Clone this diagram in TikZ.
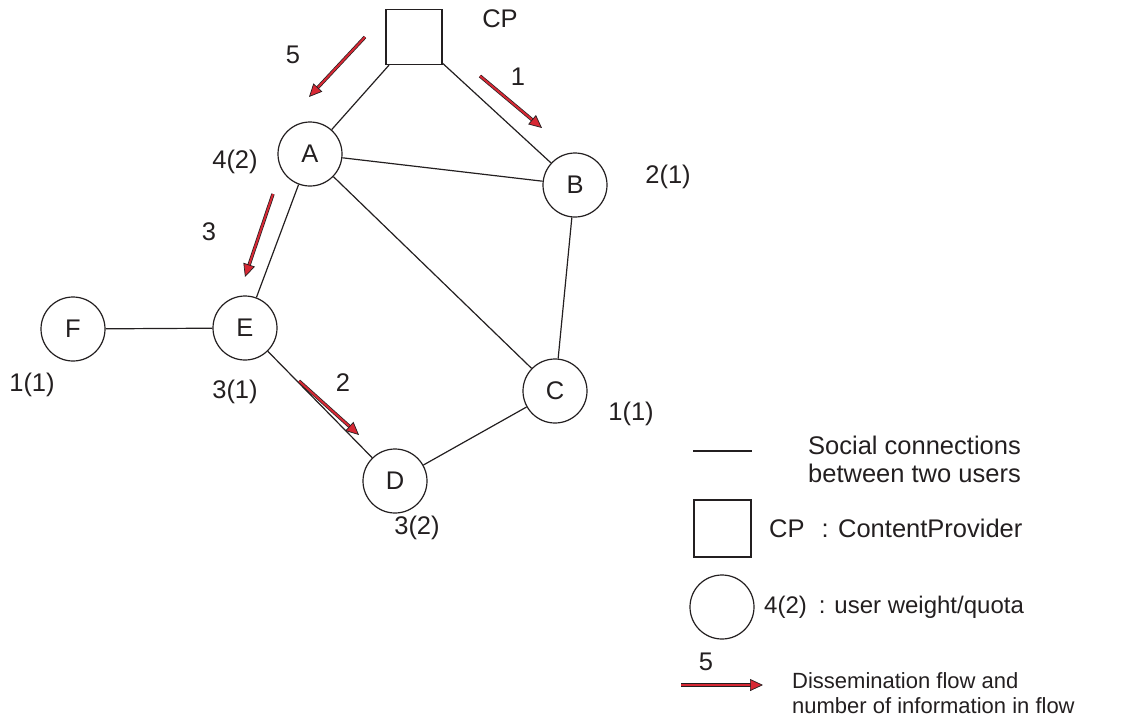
\documentclass[tikz,border=0pt]{standalone}
\usepackage{fontspec}
\setmainfont{Liberation Sans}
\usetikzlibrary{arrows.meta}
\definecolor{flowred}{RGB}{215,40,52}
\definecolor{ink}{RGB}{35,31,32}
\begin{document}
\begin{tikzpicture}[x=1pt,y=-1pt,
  user/.style={draw=ink, line width=1.2pt, circle, minimum size=64pt, inner sep=0pt, font=\fontsize{25.5}{28}\selectfont, text=ink},
  cpbox/.style={draw=ink, line width=1.2pt, rectangle, minimum width=56pt, minimum height=55pt, inner sep=0pt},
  link/.style={draw=ink, line width=1.2pt},
  lbl/.style={font=\fontsize{25.5}{28}\selectfont, text=ink, inner sep=0pt},
  lgd/.style={font=\fontsize{25.5}{28}\selectfont, text=ink, inner sep=0pt, anchor=west},
  lgdmid/.style={font=\fontsize{24}{27}\selectfont, text=ink, inner sep=0pt, anchor=west},
  lgdsmall/.style={font=\fontsize{22}{25}\selectfont, text=ink, inner sep=0pt, anchor=west},
  flowout/.style={draw=ink, line width=3.4pt, shorten >=9pt},
  flowin/.style={draw=flowred, line width=2pt, -{Triangle[length=13pt,width=12pt,fill=flowred,color=ink,line width=0.7pt]}}
]
\useasboundingbox (0,0) rectangle (1136,721);
% nodes
\node[cpbox] (CP) at (414,37) {};
\node[user] (A) at (310,154) {A};
\node[user] (B) at (575,185) {B};
\node[user] (E) at (245,328) {E};
\node[user] (F) at (73,329) {F};
\node[user] (C) at (555,391) {C};
\node[user] (D) at (395,481) {D};
% links
\draw[link] (CP) -- (A);
\draw[link] (CP) -- (B);
\draw[link] (A) -- (B);
\draw[link] (A) -- (C);
\draw[link] (A) -- (E);
\draw[link] (B) -- (C);
\draw[link] (F) -- (E);
\draw[link] (E) -- (D);
\draw[link] (D) -- (C);
% labels
\node[lbl] (lcp) at (500,19) {CP};
\node[lbl] (l5) at (293,55) {5};
\node[lbl] (l1) at (518,77) {1};
\node[lbl] (lA) at (235,162) {4(2)};
\node[lbl] (lB) at (668,177) {2(1)};
\node[lbl] (l3) at (209,232) {3};
\node[lbl] (lF) at (32,385) {1(1)};
\node[lbl] (lE) at (235,392) {3(1)};
\node[lbl] (l2) at (343,383) {2};
\node[lbl] (lC) at (631,414) {1(1)};
\node[lbl] (lD) at (417,528) {3(2)};
% flow arrows
\coordinate (f5s) at (365,37);  \coordinate (f5e) at (309,97);
\coordinate (f1s) at (480,76);  \coordinate (f1e) at (542,128);
\coordinate (f3s) at (273,194); \coordinate (f3e) at (245,277);
\coordinate (f2s) at (299,381); \coordinate (f2e) at (359,435);
\foreach \s/\e in {f5s/f5e,f1s/f1e,f3s/f3e,f2s/f2e}{
  \draw[flowout] (\s) -- (\e);
  \draw[flowin] (\s) -- (\e);
}
% legend
\coordinate (lg1) at (693,451); \coordinate (lg2) at (752,451);
\draw[link] (lg1) -- (lg2);
\node[lgd] (t1) at (808,445) {Social connections};
\node[lgd] (t2) at (808,473) {between two users};
\node[cpbox, minimum width=57pt, minimum height=57pt] (lsq) at (722.5,528.5) {};
\node[lgd] (t3) at (769,528) {CP\hspace*{17pt}: ContentProvider};
\node[user] (lci) at (722,607) {};
\node[lgdmid] (t4) at (764,607) {4(2)\hspace*{12pt}: user weight/quota};
\coordinate (la1) at (681,685); \coordinate (la2) at (763,685);
\draw[flowout] (la1) -- (la2);
\draw[flowin] (la1) -- (la2);
\node[lbl] (t5) at (706,662) {5};
\node[lgdsmall] (t6) at (792,681) {Dissemination flow and};
\node[lgdsmall] (t7) at (792,706) {number of information in flow};
\end{tikzpicture}
\end{document}
